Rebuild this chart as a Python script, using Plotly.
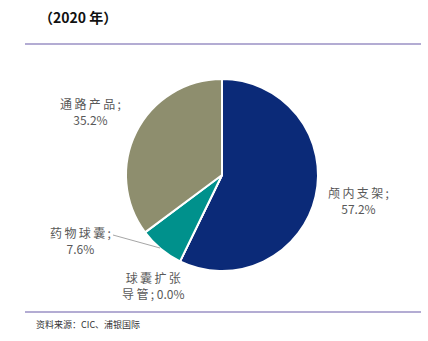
import plotly.graph_objects as go

labels = ["颅内支架", "球囊扩张导管", "药物球囊", "通路产品"]
values = [57.2, 0.0, 7.6, 35.2]
colors = ["#0b2a78", "#5a5a5a", "#00918c", "#8e8e6e"]
label_texts = ["颅内支架;<br>57.2%", "球囊扩张<br>导管; 0.0%", "药物球囊;<br>7.6%", "通路产品;<br>35.2%"]
label_pos = [(358, 200), (153, 285), (80, 240), (90, 112)]

W, H = 428, 341
def px(x): return x / W
def py(y): return 1 - y / H

def spaced(t):
    out = []
    for line in t.split("<br>"):
        s = ""
        for i, ch in enumerate(line):
            s += ch
            if i < len(line) - 1 and ord(ch) > 0x2E80:
                s += "\u2009"
        out.append(s)
    return "<br>".join(out)

cx, cy, r = 222, 175, 96

fig = go.Figure(go.Pie(
    labels=labels, values=values, sort=False, direction="clockwise", rotation=0,
    marker=dict(colors=colors, line=dict(color="white", width=2)),
    textinfo="none", hoverinfo="label+percent", showlegend=False,
    domain=dict(x=[px(cx - r), px(cx + r)], y=[py(cy + r), py(cy - r)]),
))

font = dict(family="Noto Sans CJK SC, Noto Sans, sans-serif", size=12, color="#595959")
anns = []
for t, (x, y) in zip(label_texts, label_pos):
    anns.append(dict(x=px(x), y=py(y), xref="paper", yref="paper", text=spaced(t), showarrow=False,
                     font=font, align="center", xanchor="center", yanchor="middle"))
anns.append(dict(x=px(37), y=py(17), xref="paper", yref="paper", text="<b>（2020 年）</b>",
                 showarrow=False, font=dict(family="Noto Sans CJK SC, sans-serif", size=14, color="#111111"),
                 xanchor="left", yanchor="middle"))
anns.append(dict(x=px(34), y=py(324), xref="paper", yref="paper", text="资料来源：CIC、浦银国际",
                 showarrow=False, font=dict(family="Noto Sans CJK SC, sans-serif", size=9, color="#333333"),
                 xanchor="left", yanchor="middle"))

shapes = [
    dict(type="line", xref="paper", yref="paper", x0=px(25), x1=px(421), y0=py(44), y1=py(44),
         line=dict(color="#b3acd3", width=2)),
    dict(type="line", xref="paper", yref="paper", x0=px(25), x1=px(421), y0=py(312), y1=py(312),
         line=dict(color="#b3acd3", width=2)),
    dict(type="line", xref="paper", yref="paper", x0=px(113), x1=px(160), y0=py(235), y1=py(248),
         line=dict(color="#a6a6a6", width=1)),
]

fig.update_layout(width=W, height=H, margin=dict(l=0, r=0, t=0, b=0),
                  paper_bgcolor="white", plot_bgcolor="white",
                  annotations=anns, shapes=shapes)
fig.write_html("out.html")
